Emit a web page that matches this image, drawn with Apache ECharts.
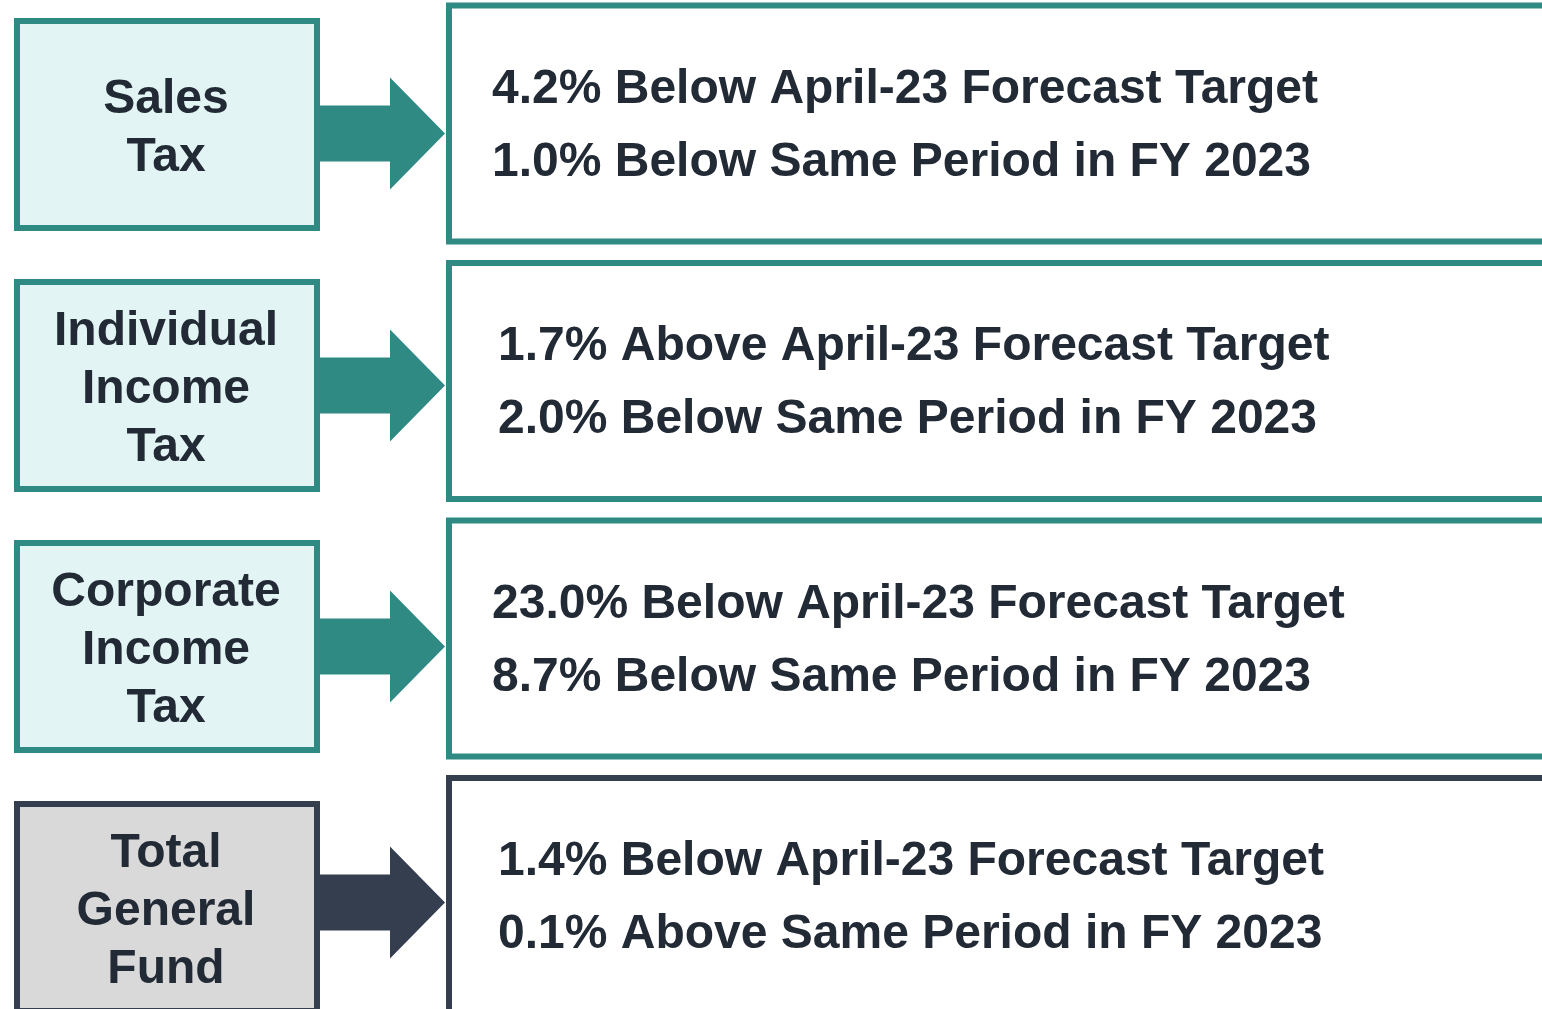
<!DOCTYPE html>
<html>
<head>
<meta charset="utf-8">
<style>
  html, body { margin: 0; padding: 0; background: #fff; }
  #chart { width: 1542px; height: 1009px; }
</style>
<script src="https://cdn.jsdelivr.net/npm/echarts@6/dist/echarts.min.js"></script>
</head>
<body>
<div id="chart"></div>
<script>
// revenue sources and their variance vs. forecast / prior year
var categories = ['Sales\nTax', 'Individual\nIncome\nTax', 'Corporate\nIncome\nTax', 'Total\nGeneral\nFund']
var forecastPct = ['4.2', '1.7', '23.0', '1.4']
var forecastDir = ['Below', 'Above', 'Below', 'Below']
var priorPct = ['1.0', '2.0', '8.7', '0.1']
var priorDir = ['Below', 'Below', 'Below', 'Above']
var forecastName = 'April-23 Forecast Target'
var priorName = 'Same Period in FY 2023'

var TEAL = '#2f8a84'
var DARK = '#343e4f'
var TEXT = '#222a35'
var FONT = 'Liberation Sans, Arial, Helvetica, sans-serif'

// small per-row nudges seen in the original layout
var arrowShift = [9, 0, 0, -5]
var textIndent = [0, 6, 0, 6]

var rows = categories.map(function(c, i) { return [0, i] })

function isTotal(i) {
  return i === categories.length - 1
}

function renderLeft(params, api) {
  var i = api.value(1)
  var c = api.coord([0, i])[1]
  var line = isTotal(i) ? DARK : TEAL
  var fill = isTotal(i) ? '#d9d9d9' : '#e2f4f4'
  var ac = c + arrowShift[i]
  return {
    type: 'group',
    children: [
      {
        type: 'polygon',
        shape: {
          points: [
            [316, ac - 28], [390, ac - 28], [390, ac - 56], [445, ac],
            [390, ac + 56], [390, ac + 28], [316, ac + 28]
          ]
        },
        style: { fill: line }
      },
      {
        type: 'rect',
        shape: { x: 17, y: c - 103.5, width: 300, height: 207 },
        style: { fill: fill, stroke: line, lineWidth: 6 }
      },
      {
        type: 'text',
        style: {
          text: categories[i],
          x: 166,
          y: c + 4,
          align: 'center',
          verticalAlign: 'middle',
          fontSize: 48,
          fontWeight: 'bold',
          fontFamily: FONT,
          lineHeight: 58,
          fill: TEXT
        }
      }
    ]
  }
}

function renderRight(params, api) {
  var i = api.value(1)
  var c = api.coord([0, i])[1]
  var line = isTotal(i) ? DARK : TEAL
  var tx = 492 + textIndent[i]
  var txtStyle = {
    x: tx,
    align: 'left',
    verticalAlign: 'middle',
    fontSize: 48,
    fontWeight: 'bold',
    fontFamily: FONT,
    fill: TEXT
  }
  return {
    type: 'group',
    children: [
      {
        type: 'rect',
        shape: { x: 449, y: c - 118, width: 1200, height: 236 },
        style: { fill: '#fff', stroke: line, lineWidth: 6 }
      },
      {
        type: 'text',
        style: Object.assign({}, txtStyle, {
          y: c - 34,
          text: forecastPct[i] + '% ' + forecastDir[i] + ' ' + forecastName
        })
      },
      {
        type: 'text',
        style: Object.assign({}, txtStyle, {
          y: c + 39,
          text: priorPct[i] + '% ' + priorDir[i] + ' ' + priorName
        })
      }
    ]
  }
}

var chart = echarts.init(document.getElementById('chart'))
chart.setOption({
  animation: false,
  grid: [
    { left: 0, right: 0, top: 0, bottom: 0 },
    { left: 0, right: 0, top: 0, bottom: 0 }
  ],
  xAxis: [
    { gridIndex: 0, type: 'value', min: 0, max: 1542, show: false },
    { gridIndex: 1, type: 'value', min: 0, max: 1542, show: false }
  ],
  // row index -> vertical centre: left rows every 261px from 124.5, right panels every 257.5px from 123.5
  yAxis: [
    { gridIndex: 0, type: 'value', inverse: true, min: -0.47701, max: 3.38889, show: false },
    { gridIndex: 1, type: 'value', inverse: true, min: -0.47961, max: 3.43884, show: false }
  ],
  series: [
    {
      type: 'custom',
      xAxisIndex: 1,
      yAxisIndex: 1,
      renderItem: renderRight,
      data: rows,
      clip: false
    },
    {
      type: 'custom',
      xAxisIndex: 0,
      yAxisIndex: 0,
      renderItem: renderLeft,
      data: rows,
      clip: false
    }
  ]
})
</script>
</body>
</html>
